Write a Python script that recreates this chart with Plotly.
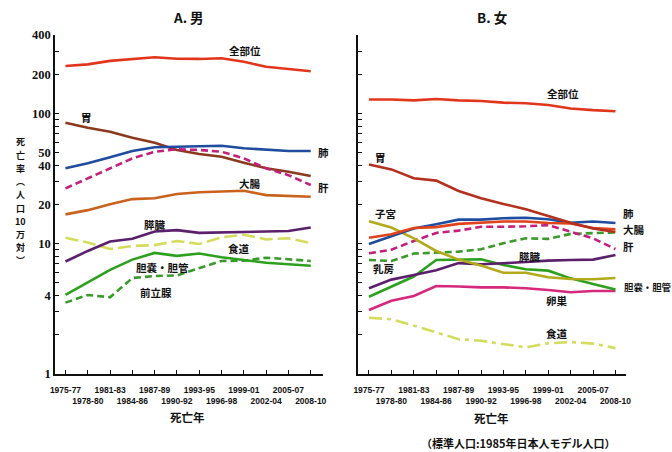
import math
import plotly.graph_objects as go

# Death periods (3-year averages)
periods = ["1975-77", "1978-80", "1981-83", "1984-86", "1987-89", "1990-92",
           "1993-95", "1996-98", "1999-01", "2002-04", "2005-07", "2008-10"]

# Age-adjusted cancer death rates per 100,000 — men
male_all = [231, 238, 253, 262, 270, 263, 262, 265, 249, 228, 218, 211]
male_stomach = [84.9, 77.6, 72.4, 65.1, 59.6, 52.4, 48.8, 46.5, 41.9, 37.9, 35.7, 33.1]
male_lung = [37.9, 41.4, 46.0, 51.4, 55.0, 55.6, 55.6, 56.5, 54.0, 52.4, 51.4, 51.4]
male_liver = [26.6, 31.8, 37.9, 45.2, 50.8, 53.0, 52.4, 50.8, 45.2, 37.9, 33.6, 28.2]
male_colorectal = [16.8, 18.1, 20.1, 22.0, 22.3, 24.1, 24.8, 25.0, 25.5, 23.6, 23.3, 22.9]
male_pancreas = [7.3, 8.8, 10.4, 10.9, 12.4, 12.7, 12.1, 12.2, 12.4, 12.4, 12.5, 13.3]
male_esophagus = [11.1, 10.2, 9.1, 9.6, 9.75, 10.5, 9.95, 11.2, 11.7, 10.8, 11.0, 10.1]
male_gallbladder = [4.04, 5.02, 6.3, 7.55, 8.5, 8.07, 8.4, 7.86, 7.5, 7.15, 6.95, 6.78]
male_prostate = [3.53, 4.04, 3.88, 5.45, 5.65, 5.7, 6.5, 7.37, 7.4, 7.81, 7.59, 7.37]

# Age-adjusted cancer death rates per 100,000 — women
female_all = [128, 128, 126, 129, 126, 124.5, 121, 119.6, 116, 109, 106, 104]
female_stomach = [40.6, 37.2, 31.8, 30.5, 25.4, 22.3, 20.2, 18.4, 16.3, 14.5, 13.1, 12.3]
female_lung = [9.95, 11.4, 13.1, 14.1, 15.3, 15.3, 15.7, 15.8, 15.4, 14.5, 14.8, 14.4]
female_colorectal = [11.1, 11.8, 13.2, 13.4, 14.2, 14.5, 14.8, 14.8, 14.4, 14.3, 13.2, 12.9]
female_liver = [8.44, 9.0, 10.5, 12.1, 12.6, 13.5, 13.5, 13.6, 13.9, 12.4, 11.0, 9.1]
female_uterus = [14.9, 13.3, 11.0, 8.79, 7.55, 6.8, 5.99, 5.99, 5.52, 5.36, 5.33, 5.45]
female_breast = [7.5, 7.37, 8.4, 8.53, 8.69, 9.06, 10.1, 11.0, 10.9, 11.9, 12.1, 12.2]
female_pancreas = [4.55, 5.3, 5.75, 6.25, 7.1, 6.95, 7.08, 7.29, 7.41, 7.5, 7.55, 8.19]
female_gallbladder = [3.92, 4.7, 5.6, 7.5, 7.5, 7.59, 6.86, 6.36, 6.21, 5.42, 4.9, 4.45]
female_ovary = [3.1, 3.65, 3.97, 4.74, 4.7, 4.62, 4.62, 4.55, 4.41, 4.24, 4.33, 4.33]
female_esophagus = [2.70, 2.63, 2.35, 2.08, 1.85, 1.80, 1.70, 1.60, 1.72, 1.76, 1.71, 1.58]

# Axis ticks
y_tick_values = [1, 4, 10, 20, 40, 50, 100, 200, 400]
y_minor_values = [2, 3, 5, 6, 7, 8, 9, 30, 60, 70, 80, 90, 300]

RED = "#E2361C"
STOMACH_M = "#8C3A1E"
STOMACH_F = "#B4301F"
BLUE = "#1F4C9E"
MAGENTA = "#C41F7C"
ORANGE = "#C9621C"
RED_F = "#E0421C"
PURPLE = "#5B1F6B"
YELLOW = "#D3DC5C"
GREEN = "#2EA01F"
GREEN_D = "#3A9A2A"
OLIVE = "#B2AA18"
PINK = "#D6287C"

JP = "Noto Sans CJK JP"
xs = list(range(len(periods)))

fig = go.Figure()


def add_line(values, color, xa, ya, dash="solid", width=2.6):
    fig.add_trace(go.Scatter(
        x=xs, y=values, mode="lines", xaxis=xa, yaxis=ya,
        line=dict(color=color, width=width, dash=dash),
        showlegend=False, hoverinfo="skip"))


# Men (the all-sites line sits on the overlay axis that carries the lower tick row)
add_line(male_all, RED, "x3", "y")
add_line(male_stomach, STOMACH_M, "x", "y")
add_line(male_lung, BLUE, "x", "y")
add_line(male_liver, MAGENTA, "x", "y", dash="7px,4px")
add_line(male_colorectal, ORANGE, "x", "y")
add_line(male_esophagus, YELLOW, "x", "y", dash="13px,5px")
add_line(male_pancreas, PURPLE, "x", "y")
add_line(male_gallbladder, GREEN, "x", "y")
add_line(male_prostate, GREEN_D, "x", "y", dash="7px,4px")

# Women
add_line(female_all, RED, "x4", "y2")
add_line(female_esophagus, YELLOW, "x2", "y2", dash="13px,5px,4px,5px")
add_line(female_ovary, PINK, "x2", "y2")
add_line(female_gallbladder, GREEN, "x2", "y2")
add_line(female_pancreas, PURPLE, "x2", "y2")
add_line(female_breast, GREEN_D, "x2", "y2", dash="7px,4px")
add_line(female_liver, MAGENTA, "x2", "y2", dash="7px,4px")
add_line(female_uterus, OLIVE, "x2", "y2")
add_line(female_lung, BLUE, "x2", "y2")
add_line(female_colorectal, RED_F, "x2", "y2")
add_line(female_stomach, STOMACH_F, "x2", "y2")

tick_font = dict(family="Liberation Sans Narrow, Liberation Sans, Arial", size=8.5,
                 color="#111", weight="bold")
upper_text = [p if i % 2 == 0 else "" for i, p in enumerate(periods)]
lower_vals = [i for i in xs if i % 2 == 1]
lower_text = [periods[i] for i in lower_vals]

common_x = dict(tickmode="array", tickvals=xs, ticktext=upper_text, ticks="inside",
                ticklen=4, tickwidth=1.3, tickcolor="#111", showline=True,
                linecolor="#111", linewidth=1.5, showgrid=False, zeroline=False,
                tickfont=tick_font, ticklabelstandoff=7, fixedrange=True,
                automargin=False)
overlay_x = dict(tickmode="array", tickvals=lower_vals, ticktext=lower_text, ticks="",
                 showline=False, showgrid=False, zeroline=False, tickfont=tick_font,
                 ticklabelstandoff=21, side="bottom", fixedrange=True, automargin=False)
common_y = dict(type="log", range=[0, math.log10(400)], domain=[0.1726, 0.9226],
                tickmode="array", tickvals=y_tick_values,
                ticktext=[str(v) for v in y_tick_values],
                ticks="inside", ticklen=4, tickwidth=1.3, tickcolor="#111",
                minor=dict(tickmode="array", tickvals=y_minor_values, ticks="inside",
                           ticklen=4, tickwidth=1.1, tickcolor="#111"),
                showline=True, linecolor="#111", linewidth=1.5, showgrid=False,
                zeroline=False, fixedrange=True, automargin=False,
                tickfont=dict(family="Liberation Serif, Times New Roman", size=12.5,
                              color="#111", weight="bold"))

left_dom = [55 / 672, 323 / 672]
right_dom = [358 / 672, 626 / 672]
left_range = [-0.47, 11.55]
right_range = [-0.49, 11.47]

fig.update_layout(
    width=672, height=452, margin=dict(l=0, r=0, t=0, b=0, pad=0, autoexpand=False),
    paper_bgcolor="white", plot_bgcolor="white", showlegend=False,
    xaxis=dict(domain=left_dom, range=left_range, anchor="y", **common_x),
    yaxis=dict(anchor="x", **common_y),
    xaxis2=dict(domain=right_dom, range=right_range, anchor="y2", **common_x),
    yaxis2=dict(anchor="x2", showticklabels=False, **common_y),
    xaxis3=dict(overlaying="x", anchor="y", range=left_range, **overlay_x),
    xaxis4=dict(overlaying="x2", anchor="y2", range=right_range, **overlay_x),
)


def label(text, x, y, xref, yref, size=10.5, xanchor="center"):
    fig.add_annotation(text=text, x=x, y=y, xref=xref, yref=yref, showarrow=False,
                       xanchor=xanchor, yanchor="middle", borderpad=0,
                       font=dict(family=JP, size=size, color="#111", weight="bold"))


def lx_left(px):
    return (px - 65.5) / 22.3


def lx_right(px):
    return (px - 369) / 22.4


def ly(py):
    return (374 - py) / 130.3


# Men series labels
label("全部位", lx_left(245), ly(50), "x", "y")
label("胃", lx_left(87), ly(117), "x", "y")
label("肺", lx_left(317), ly(152), "x", "y", xanchor="left")
label("肝", lx_left(317), ly(187), "x", "y", xanchor="left")
label("大腸", lx_left(250), ly(183), "x", "y")
label("膵臓", lx_left(155), ly(224), "x", "y")
label("食道", lx_left(239), ly(248), "x", "y")
label("胆嚢・胆管", lx_left(163), ly(267), "x", "y")
label("前立腺", lx_left(156), ly(293), "x", "y")

# Women series labels
label("全部位", lx_right(563), ly(93), "x2", "y2")
label("胃", lx_right(381), ly(157), "x2", "y2")
label("子宮", lx_right(386), ly(213), "x2", "y2")
label("乳房", lx_right(384), ly(269), "x2", "y2")
label("膵臓", lx_right(530), ly(256), "x2", "y2")
label("卵巣", lx_right(557), ly(301), "x2", "y2")
label("食道", lx_right(557), ly(334), "x2", "y2")
label("肺", lx_right(622), ly(213), "x2", "y2", xanchor="left")
label("大腸", lx_right(622), ly(229), "x2", "y2", xanchor="left")
label("肝", lx_right(622), ly(246), "x2", "y2", xanchor="left")
label("胆嚢・胆管", lx_right(623), ly(287), "x2", "y2", size=9.4, xanchor="left")

# Panel titles, axis titles, footnote
label("A. 男", 188 / 672, 1 - 17 / 452, "paper", "paper", size=13.5)
label("B. 女", 492 / 672, 1 - 17 / 452, "paper", "paper", size=13.5)
label("死亡年", 187 / 672, 1 - 417 / 452, "paper", "paper", size=11.5)
label("死亡年", 492 / 672, 1 - 418 / 452, "paper", "paper", size=11.5)
label("（標準人口:1985年日本人モデル人口）", 518 / 672, 1 - 443 / 452, "paper", "paper",
      size=11)

# Vertical y-axis title, one glyph per row
y_title_chars = ["死", "亡", "率", "︵", "人", "口", "10", "万", "対", "︶"]
for i, ch in enumerate(y_title_chars):
    label(ch, 20 / 672, 1 - (142 + i * 13.2) / 452, "paper", "paper", size=9)

fig.write_html("out.html")
